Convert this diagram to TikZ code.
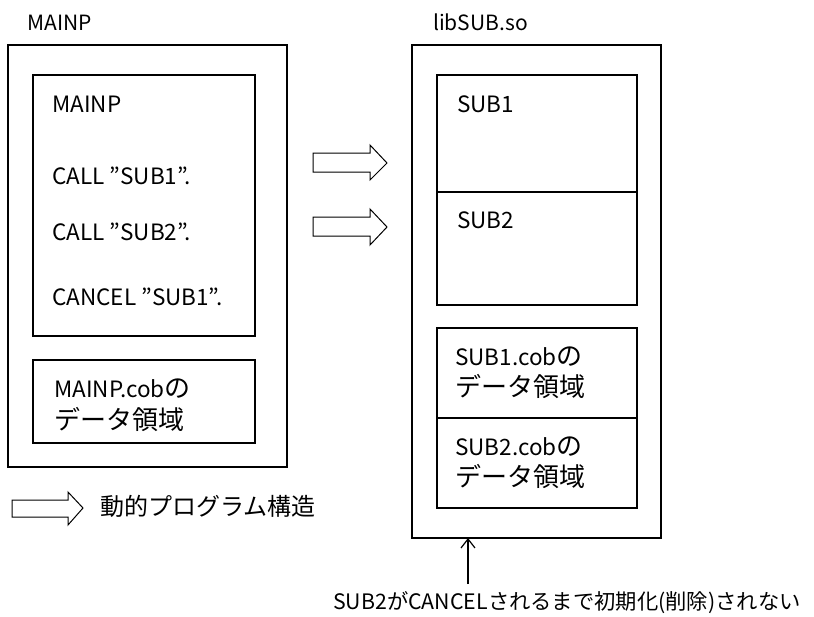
\documentclass[tikz,border=0pt]{standalone}
\usepackage{fontspec}
\setmainfont{Noto Sans CJK JP}
\usetikzlibrary{arrows.meta}
\newcommand\jp[1]{{\fontsize{26}{28}\selectfont #1}}
\tikzset{
  box/.style={draw, line width=1.2pt, inner sep=0pt, outer sep=0pt, anchor=north west},
  txt/.style={anchor=base west, inner sep=0pt, font=\fontsize{22.5}{26}\selectfont},
  blockarrow/.style={draw, line width=1pt, fill=white},
}
\begin{document}
\begin{tikzpicture}[x=1pt,y=-1pt]
\useasboundingbox (0,0) rectangle (814,616);
% left program
\node[txt, font=\fontsize{21}{24}\selectfont] (tmain) at (27,30) {MAINP};
\node[box, minimum width=279pt, minimum height=422pt] (lo) at (8,45) {};
\node[box, minimum width=222pt, minimum height=261pt] (lcode) at (33,75) {};
\node[box, minimum width=222pt, minimum height=83pt] (ldata) at (33,360) {};
\node[txt] (c0) at (52,112) {MAINP};
\node[txt] (c1) at (52,184) {CALL ”SUB1”.};
\node[txt] (c2) at (52,240) {CALL ”SUB2”.};
\node[txt] (c3) at (52,305) {CANCEL ”SUB1”.};
\node[txt] (d0a) at (54,397) {MAINP.cob\jp{の}};
\node[txt] (d0b) at (54,429) {\jp{データ領域}};
% right library
\node[txt, font=\fontsize{21}{24}\selectfont] (tlib) at (433,30) {libSUB.so};
\node[box, minimum width=249pt, minimum height=493pt] (ro) at (412,45) {};
\node[box, minimum width=200pt, minimum height=117pt] (rs1) at (437,75) {};
\node[box, minimum width=200pt, minimum height=113pt] (rs2) at (437,192) {};
\node[box, minimum width=200pt, minimum height=90pt] (rd1) at (437,328) {};
\node[box, minimum width=200pt, minimum height=90pt] (rd2) at (437,418) {};
\node[txt] (s1) at (457,112) {SUB1};
\node[txt] (s2) at (457,228) {SUB2};
\node[txt] (d1a) at (455,365) {SUB1.cob\jp{の}};
\node[txt] (d1b) at (455,396) {\jp{データ領域}};
\node[txt] (d2a) at (455,455) {SUB2.cob\jp{の}};
\node[txt] (d2b) at (455,486) {\jp{データ領域}};
% block arrows
\draw[blockarrow] (313,153) -- (370,153) -- (370,145) -- (387,163) -- (370,180) -- (370,172) -- (313,172) -- cycle;
\draw[blockarrow] (313,217) -- (370,217) -- (370,209) -- (387,227) -- (370,245) -- (370,236) -- (313,236) -- cycle;
% legend
\draw[blockarrow] (12,500) -- (68,500) -- (68,492) -- (83,508) -- (68,525) -- (68,517) -- (12,517) -- cycle;
\node[txt, font=\fontsize{24}{26}\selectfont] (leg) at (100,515) {動的プログラム構造};
% note
\node[txt, font=\fontsize{21.3}{24}\selectfont] (note) at (333,609) {SUB2がCANCELされるまで初期化(削除)されない};
\coordinate (nt) at (468,584);
\draw[line width=1.2pt, -{Straight Barb[length=9pt,width=14pt,line width=1.2pt]}] (nt) -- (nt |- ro.south);
\end{tikzpicture}
\end{document}
